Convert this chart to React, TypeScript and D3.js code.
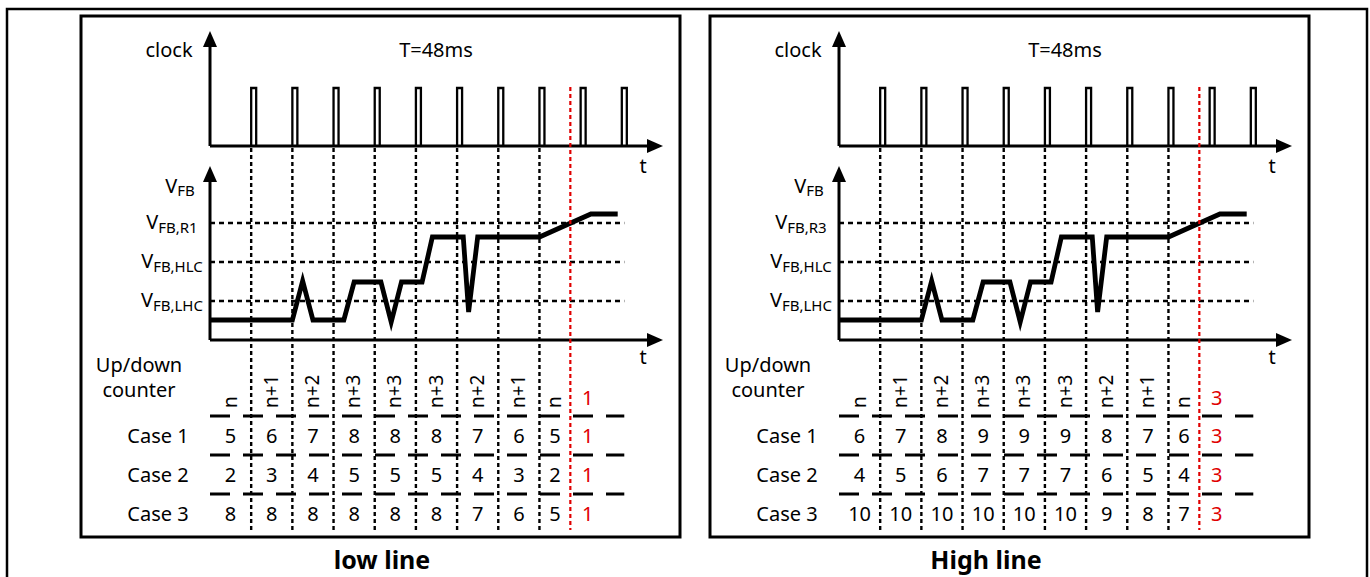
import React from "react";
import * as d3 from "d3";

// ---- data ----
const clockPulses = [1, 2, 3, 4, 5, 6, 7, 8, 9, 10];
const gridTicks = [1, 2, 3, 4, 5, 6, 7, 8];
const resetTime = 8.75;
const waveTime = [0, 2, 2.25, 2.5, 3.25, 3.5, 4.15, 4.4, 4.65, 5.15, 5.4, 6.15, 6.28, 6.5, 8, 9.25, 9.9];
const waveLevel = [20, 20, 59, 20, 20, 58, 58, 18, 58, 58, 103, 103, 28, 103, 103, 126, 126];
const thresholdLevels = [117, 78, 39];
const lowThresholdNames = ["FB,R1", "FB,HLC", "FB,LHC"];
const highThresholdNames = ["FB,R3", "FB,HLC", "FB,LHC"];
const counterLabels = ["n", "n+1", "n+2", "n+3", "n+3", "n+3", "n+2", "n+1", "n"];
const caseNames = ["Case 1", "Case 2", "Case 3"];
const lowCase1 = [5, 6, 7, 8, 8, 8, 7, 6, 5];
const lowCase2 = [2, 3, 4, 5, 5, 5, 4, 3, 2];
const lowCase3 = [8, 8, 8, 8, 8, 8, 7, 6, 5];
const highCase1 = [6, 7, 8, 9, 9, 9, 8, 7, 6];
const highCase2 = [4, 5, 6, 7, 7, 7, 6, 5, 4];
const highCase3 = [10, 10, 10, 10, 10, 10, 9, 8, 7];
const lowReset = "1";
const highReset = "3";

const FONT = "'Noto Sans', sans-serif";

const x = d3.scaleLinear().domain([0, 11]).range([210, 663]);
const yC = d3.scaleLinear().domain([0, 1]).range([146, 88]);
const yV = d3.scaleLinear().domain([0, 173]).range([340, 167]);

const wave: [number, number][] = waveTime.map((t, i) => [t, waveLevel[i]]);
const waveLine = d3
  .line<[number, number]>()
  .x((d) => x(d[0]))
  .y((d) => yV(d[1]));

const colEdges = [0, ...gridTicks, resetTime];
const colCenters = colEdges.slice(0, -1).map((e, i) => x((e + colEdges[i + 1]) / 2));
const resetX = x(9.17);
const rowBars = [416, 455, 494];
const rowCenters = [436, 475, 514];

function VArrow({ cx, tip }: { cx: number; tip: number }) {
  return <polygon points={`${cx},${tip} ${cx - 7},${tip + 16} ${cx + 7},${tip + 16}`} fill="#000" />;
}
function HArrow({ cy, tip }: { cy: number; tip: number }) {
  return <polygon points={`${tip},${cy} ${tip - 16},${cy - 7} ${tip - 16},${cy + 7}`} fill="#000" />;
}

function Panel({
  dx,
  names,
  cases,
  reset,
}: {
  dx: number;
  names: string[];
  cases: number[][];
  reset: string;
}) {
  const x0 = x(0);
  const xEnd = x(11);
  return (
    <g transform={`translate(${dx},0)`} fontFamily={FONT}>
      <rect x={81} y={16} width={599} height={521} fill="none" stroke="#000" strokeWidth={3} />
      {/* clock */}
      <text x={169} y={57} fontSize={20} textAnchor="middle">clock</text>
      <text x={436} y={57} fontSize={20} textAnchor="middle">T=48ms</text>
      <line x1={x0} y1={yC(0)} x2={x0} y2={40} stroke="#000" strokeWidth={3} />
      <VArrow cx={x0} tip={31} />
      <line x1={x0} y1={yC(0)} x2={xEnd - 8} y2={yC(0)} stroke="#000" strokeWidth={3} />
      <HArrow cy={yC(0)} tip={xEnd} />
      <text x={643} y={173} fontSize={20} textAnchor="middle">t</text>
      {clockPulses.map((p) => (
        <path
          key={p}
          d={`M${x(p)},${yC(0)}V${yC(1)}H${x(p) + 5}V${yC(0)}`}
          fill="none"
          stroke="#000"
          strokeWidth={2.3}
        />
      ))}
      {/* grid verticals */}
      {gridTicks.map((t) => (
        <line key={t} x1={x(t)} y1={yC(0) + 2} x2={x(t)} y2={530} stroke="#000" strokeWidth={2.4} strokeDasharray="4 3" />
      ))}
      {/* VFB */}
      <line x1={x0} y1={yV(0)} x2={x0} y2={176} stroke="#000" strokeWidth={3} />
      <VArrow cx={x0} tip={166} />
      <line x1={x0} y1={yV(0)} x2={xEnd - 8} y2={yV(0)} stroke="#000" strokeWidth={3} />
      <HArrow cy={yV(0)} tip={xEnd} />
      <text x={643} y={364} fontSize={20} textAnchor="middle">t</text>
      <text x={180} y={193} fontSize={20} textAnchor="middle">
        V<tspan fontSize={15} dy={3}>FB</tspan>
      </text>
      {thresholdLevels.map((lv, i) => (
        <g key={i}>
          <line x1={x0} y1={yV(lv)} x2={x(10.06)} y2={yV(lv)} stroke="#000" strokeWidth={2.4} strokeDasharray="5 4" />
          <text x={172} y={yV(lv) + 6} fontSize={20} textAnchor="middle">
            V<tspan fontSize={15} dy={4}>{names[i]}</tspan>
          </text>
        </g>
      ))}
      <path d={waveLine(wave) || ""} fill="none" stroke="#000" strokeWidth={4.8} strokeLinejoin="miter" strokeMiterlimit={10} />
      {/* counter */}
      <text x={139} y={372} fontSize={20} textAnchor="middle">Up/down</text>
      <text x={139} y={397} fontSize={20} textAnchor="middle">counter</text>
      {counterLabels.map((l, i) => (
        <text
          key={i}
          transform={`translate(${colCenters[i] + 6},408) rotate(-90)`}
          fontSize={19}
          textAnchor="start"
        >
          {l}
        </text>
      ))}
      <text x={resetX} y={405} fontSize={20} textAnchor="middle" fill="#e00000">{reset}</text>
      {rowBars.map((yb, i) => (
        <line key={i} x1={x0} y1={yb} x2={x(10.06)} y2={yb} stroke="#000" strokeWidth={3} strokeDasharray="20 13" />
      ))}
      {caseNames.map((c, r) => (
        <g key={c}>
          <text x={158} y={rowCenters[r] + 7} fontSize={20} textAnchor="middle">{c}</text>
          {cases[r].map((v, i) => (
            <text key={i} x={colCenters[i]} y={rowCenters[r] + 7} fontSize={20} textAnchor="middle">{v}</text>
          ))}
          <text x={resetX} y={rowCenters[r] + 7} fontSize={20} textAnchor="middle" fill="#e00000">{reset}</text>
        </g>
      ))}
      {/* reset marker */}
      <line x1={x(resetTime)} y1={yC(1) - 1} x2={x(resetTime)} y2={530} stroke="#e00000" strokeWidth={2.2} strokeDasharray="4 3" />
    </g>
  );
}

export default function App() {
  return (
    <svg
      width={1370}
      height={577}
      style={{ position: "absolute", left: 0, top: 0, background: "#fff" }}
    >
      <rect x={0} y={0} width={1370} height={577} fill="#fff" />
      <rect x={7} y={9} width={1360} height={620} fill="none" stroke="#000" strokeWidth={2.5} />
      <Panel dx={0} names={lowThresholdNames} cases={[lowCase1, lowCase2, lowCase3]} reset={lowReset} />
      <Panel dx={629} names={highThresholdNames} cases={[highCase1, highCase2, highCase3]} reset={highReset} />
      <text x={382} y={569} fontSize={25} fontWeight="bold" textAnchor="middle" fontFamily={FONT}>low line</text>
      <text x={986} y={569} fontSize={25} fontWeight="bold" textAnchor="middle" fontFamily={FONT}>High line</text>
    </svg>
  );
}
